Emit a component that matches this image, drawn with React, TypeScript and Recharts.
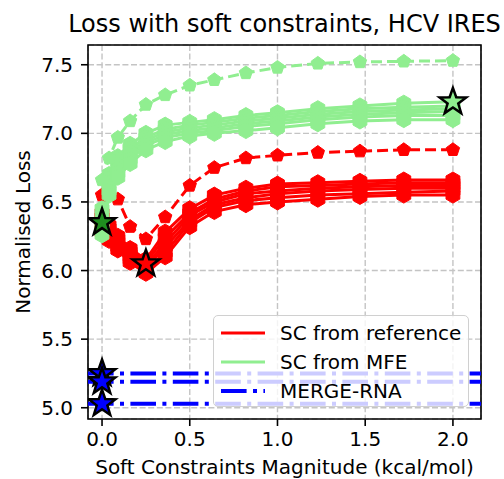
import {
  ComposedChart,
  Line,
  Scatter,
  XAxis,
  YAxis,
  CartesianGrid,
  ReferenceLine,
  ReferenceArea,
} from "recharts"

// soft-constraint magnitudes (kcal/mol)
const magnitudes = [0, 0.04, 0.09, 0.16, 0.25, 0.36, 0.5, 0.64, 0.82, 1.0, 1.23, 1.47, 1.72, 2.0]

// SC from reference structure
const refDashed = [6.55, 6.59, 6.52, 6.32, 6.23, 6.39, 6.62, 6.75, 6.82, 6.84, 6.86, 6.87, 6.88, 6.88]
const refRuns = [
  [6.42, 6.33, 6.25, 6.16, 6.08, 6.28, 6.45, 6.55, 6.6, 6.63, 6.64, 6.65, 6.66, 6.66],
  [6.39, 6.31, 6.23, 6.14, 6.06, 6.24, 6.42, 6.52, 6.58, 6.61, 6.62, 6.63, 6.64, 6.64],
  [6.36, 6.29, 6.21, 6.12, 6.04, 6.2, 6.4, 6.5, 6.56, 6.58, 6.6, 6.61, 6.62, 6.62],
  [6.34, 6.27, 6.19, 6.1, 6.02, 6.17, 6.37, 6.48, 6.53, 6.56, 6.58, 6.59, 6.6, 6.6],
  [6.31, 6.24, 6.17, 6.08, 6.0, 6.13, 6.35, 6.46, 6.51, 6.53, 6.55, 6.56, 6.57, 6.58],
  [6.28, 6.22, 6.15, 6.06, 5.98, 6.1, 6.32, 6.43, 6.48, 6.5, 6.52, 6.54, 6.55, 6.55],
]

// SC from MFE structure
const mfeDashed = [6.66, 6.82, 6.97, 7.09, 7.21, 7.28, 7.35, 7.39, 7.44, 7.48, 7.51, 7.52, 7.525, 7.53]
const mfeRuns = [
  [6.45, 6.7, 6.83, 6.92, 7.0, 7.06, 7.08, 7.1, 7.13, 7.15, 7.18, 7.2, 7.22, 7.23],
  [6.4, 6.67, 6.8, 6.89, 6.97, 7.03, 7.06, 7.08, 7.11, 7.13, 7.16, 7.18, 7.19, 7.2],
  [6.35, 6.64, 6.77, 6.86, 6.95, 7.01, 7.04, 7.06, 7.09, 7.11, 7.14, 7.16, 7.17, 7.18],
  [6.32, 6.61, 6.74, 6.84, 6.93, 6.99, 7.02, 7.04, 7.07, 7.09, 7.12, 7.14, 7.15, 7.16],
  [6.29, 6.58, 6.71, 6.81, 6.91, 6.97, 7.0, 7.02, 7.05, 7.07, 7.1, 7.12, 7.13, 7.13],
  [6.26, 6.55, 6.68, 6.78, 6.88, 6.94, 6.98, 7.0, 7.02, 7.04, 7.07, 7.09, 7.1, 7.1],
]

// MERGE-RNA losses (horizontal lines)
const mergeLosses = [5.25, 5.19, 5.03]

// highlighted optima
const refBest = [{ x: 0.25, y: 6.05 }]
const mfeBestLow = [{ x: 0, y: 6.35 }]
const mfeBestHigh = [{ x: 2.0, y: 7.23 }]

const xTicks = [0, 0.5, 1.0, 1.5, 2.0]
const yTicks = [5.0, 5.5, 6.0, 6.5, 7.0, 7.5]
const xDomain = [-0.08, 2.16]
const yDomain = [4.918, 7.644]

const RED = "#ff0000"
const GREEN = "#90ee90"
const BLUE = "#0000ff"
const FONT = "'DejaVu Sans', sans-serif"

const rows = magnitudes.map((x, i) => {
  const row: Record<string, number> = { x, refDashed: refDashed[i], mfeDashed: mfeDashed[i] }
  refRuns.forEach((run, k) => (row[`ref${k}`] = run[i]))
  mfeRuns.forEach((run, k) => (row[`mfe${k}`] = run[i]))
  return row
})

function polygon(cx: number, cy: number, r: number, n: number) {
  const pts: string[] = []
  for (let k = 0; k < n; k++) {
    const a = -Math.PI / 2 + (k * 2 * Math.PI) / n
    pts.push(`${cx + r * Math.cos(a)},${cy + r * Math.sin(a)}`)
  }
  return pts.join(" ")
}

const markerDot = (color: string, sides: number, r: number) => (p: any) => {
  if (p.cx == null || p.cy == null) return <g key={`${p.dataKey}-${p.index}`} />
  return (
    <polygon
      key={`${p.dataKey}-${p.index}`}
      points={polygon(p.cx, p.cy, r, sides)}
      fill={color}
      stroke={color}
      strokeWidth={1}
    />
  )
}

function starPoints(cx: number, cy: number, outer: number, inner: number) {
  const pts: string[] = []
  for (let k = 0; k < 10; k++) {
    const r = k % 2 === 0 ? outer : inner
    const a = -Math.PI / 2 + (k * Math.PI) / 5
    pts.push(`${cx + r * Math.cos(a)},${cy + r * Math.sin(a)}`)
  }
  return pts.join(" ")
}

const starShape = (fill: string) => (p: any) => (
  <polygon
    points={starPoints(p.cx, p.cy, 14, 5.6)}
    fill={fill}
    stroke="#000"
    strokeWidth={2.5}
    strokeLinejoin="miter"
  />
)

const mergeStars = mergeLosses.map((y) => ({ x: 0, y }))

function LegendBox() {
  const items = [
    { label: "SC from reference", color: RED, dash: undefined },
    { label: "SC from MFE", color: GREEN, dash: undefined },
    { label: "MERGE-RNA", color: BLUE, dash: "25.6 6.4 4 6.4" },
  ]
  return (
    <div
      style={{
        position: "absolute",
        left: 213,
        top: 315,
        width: 256,
        height: 92,
        background: "rgba(255,255,255,0.8)",
        border: "1.5px solid #d0d0d0",
        borderRadius: 5,
        boxSizing: "border-box",
        fontFamily: FONT,
        fontSize: 20,
        color: "#000",
      }}
    >
      {items.map((it, i) => (
        <div
          key={it.label}
          style={{ position: "absolute", left: 6, top: 4 + i * 29, height: 26, display: "flex", alignItems: "center" }}
        >
          <svg width={46} height={10} style={{ display: "block" }}>
            <line
              x1={1}
              y1={5}
              x2={45}
              y2={5}
              stroke={it.color}
              strokeWidth={it.dash ? 4 : 3}
              strokeDasharray={it.dash}
            />
          </svg>
          <span style={{ marginLeft: 14, whiteSpace: "nowrap" }}>{it.label}</span>
        </div>
      ))}
    </div>
  )
}

export default function App() {
  return (
    <div style={{ position: "absolute", left: 0, top: 0, width: 504, height: 479, background: "#fff", fontFamily: FONT }}>
      <div
        style={{
          position: "absolute",
          left: 0,
          top: 10,
          width: 569,
          textAlign: "center",
          fontSize: 24,
          whiteSpace: "nowrap",
          color: "#000",
        }}
      >
        Loss with soft constraints, HCV IRES
      </div>
      <ComposedChart width={504} height={479} data={rows} margin={{ top: 45, right: 23, bottom: 0, left: 0 }}>
        <CartesianGrid stroke="#c4c4c4" strokeWidth={1.4} strokeDasharray="6 2.6" />
        <XAxis
          dataKey="x"
          type="number"
          domain={xDomain}
          ticks={xTicks}
          allowDataOverflow
          height={60}
          tickFormatter={(v: number) => v.toFixed(1)}
          tick={{ fill: "#000", fontSize: 20 }}
          tickSize={7}
          tickMargin={6}
          tickLine={{ stroke: "#000", strokeWidth: 1.6 }}
          axisLine={false}
          label={{
            value: "Soft Constraints Magnitude (kcal/mol)",
            position: "insideBottom",
            offset: 5,
            style: { fill: "#000", fontSize: 20 },
          }}
        />
        <YAxis
          type="number"
          domain={yDomain}
          ticks={yTicks}
          allowDataOverflow
          width={88}
          tickFormatter={(v: number) => v.toFixed(1)}
          tick={{ fill: "#000", fontSize: 20 }}
          tickSize={7}
          tickMargin={8}
          tickLine={{ stroke: "#000", strokeWidth: 1.6 }}
          axisLine={false}
          label={{
            value: "Normalised Loss",
            angle: -90,
            position: "insideLeft",
            offset: 23,
            style: { fill: "#000", fontSize: 20, textAnchor: "middle" },
          }}
        />
        {mergeLosses.map((y) => (
          <ReferenceLine key={y} y={y} stroke={BLUE} strokeWidth={4} strokeDasharray="25.6 6.4 4 6.4" />
        ))}
        {refRuns.map((_, k) => (
          <Line
            key={`ref${k}`}
            dataKey={`ref${k}`}
            stroke={RED}
            strokeWidth={3}
            dot={markerDot(RED, 6, 8)}
            activeDot={false}
            isAnimationActive={false}
          />
        ))}
        <Line
          dataKey="refDashed"
          stroke={RED}
          strokeWidth={3}
          strokeDasharray="11 5"
          dot={markerDot(RED, 5, 7)}
          activeDot={false}
          isAnimationActive={false}
        />
        {mfeRuns.map((_, k) => (
          <Line
            key={`mfe${k}`}
            dataKey={`mfe${k}`}
            stroke={GREEN}
            strokeWidth={3}
            dot={markerDot(GREEN, 6, 8)}
            activeDot={false}
            isAnimationActive={false}
          />
        ))}
        <Line
          dataKey="mfeDashed"
          stroke={GREEN}
          strokeWidth={3}
          strokeDasharray="11 5"
          dot={markerDot(GREEN, 5, 7)}
          activeDot={false}
          isAnimationActive={false}
        />
        <Scatter data={refBest} dataKey="y" shape={starShape(RED)} isAnimationActive={false} />
        <Scatter data={mfeBestLow} dataKey="y" shape={starShape("#1f8f1f")} isAnimationActive={false} />
        <Scatter data={mfeBestHigh} dataKey="y" shape={starShape(GREEN)} isAnimationActive={false} />
        <Scatter data={mergeStars} dataKey="y" shape={starShape(BLUE)} isAnimationActive={false} />
        <ReferenceArea
          x1={xDomain[0]}
          x2={xDomain[1]}
          y1={yDomain[0]}
          y2={yDomain[1]}
          fill="none"
          fillOpacity={0}
          stroke="#000"
          strokeWidth={1.6}
        />
      </ComposedChart>
      <LegendBox />
    </div>
  )
}
